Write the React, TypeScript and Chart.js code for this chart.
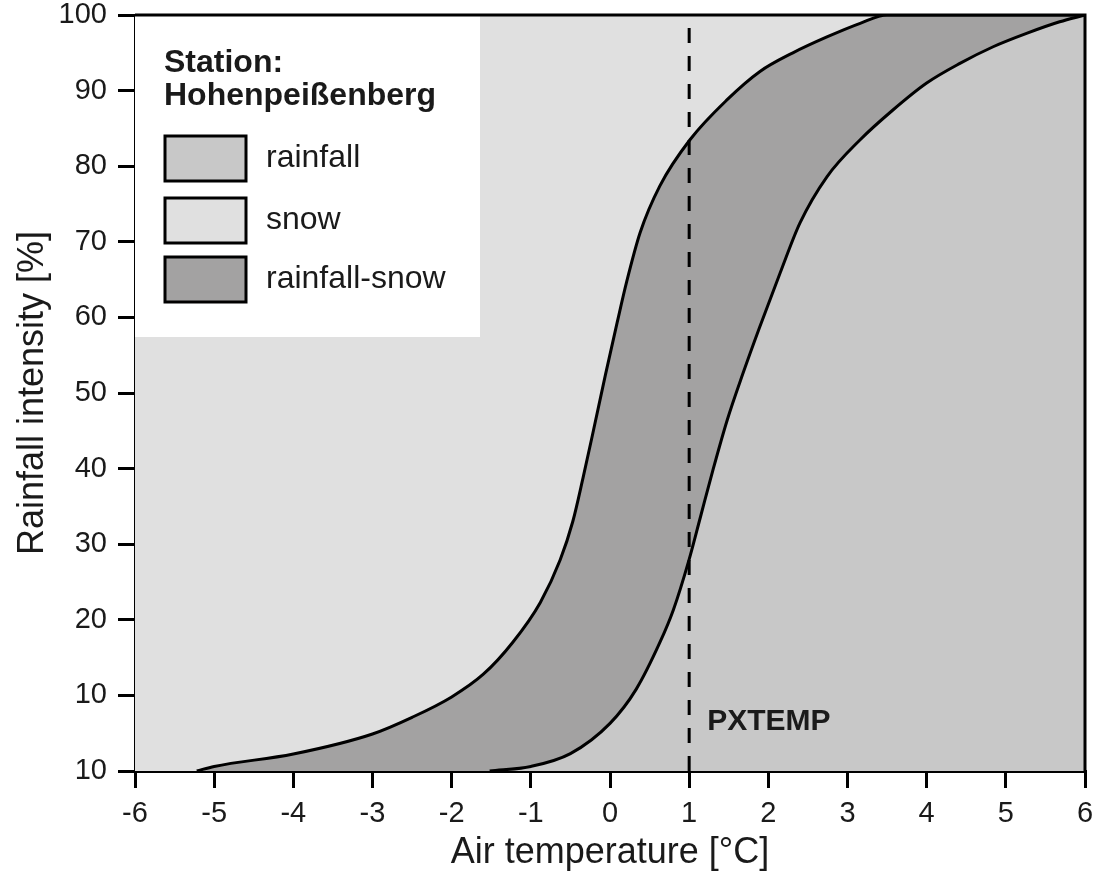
import React, { useEffect, useRef } from 'react';
import { Chart, registerables } from 'chart.js';

Chart.register(...registerables);

// ---- data ----
const xTickValues = [-6, -5, -4, -3, -2, -1, 0, 1, 2, 3, 4, 5, 6];
const xTickLabels = ['-6', '-5', '-4', '-3', '-2', '-1', '0', '1', '2', '3', '4', '5', '6'];
const yTickValues = [0, 10, 20, 30, 40, 50, 60, 70, 80, 90, 100];
const yTickLabels = ['10', '10', '20', '30', '40', '50', '60', '70', '80', '90', '100'];

// boundary between snow and rainfall-snow (left curve)
const snowLimitX = [-5.22, -5, -4, -3, -2.5, -2, -1.6, -1.23, -0.88, -0.63, -0.47, -0.34, -0.21, -0.06, 0.09, 0.21, 0.38, 0.63, 1.01, 1.48, 1.89, 2.31, 2.74, 3.16, 3.5, 6];
const snowLimitY = [0, 0.6, 2.25, 4.9, 7.1, 9.8, 12.8, 17.0, 22.3, 27.9, 33.0, 38.8, 45.0, 52.3, 59.3, 64.7, 71.2, 77.4, 83.5, 88.8, 92.5, 95.0, 97.1, 98.9, 100, 100];

// boundary between rainfall-snow and rainfall (right curve)
const rainLimitX = [-1.52, -1.0, -0.5, 0, 0.33, 0.63, 0.8, 1.0, 1.14, 1.3, 1.48, 1.68, 1.89, 2.15, 2.4, 2.74, 3.16, 3.57, 4.0, 4.42, 4.84, 5.27, 5.68, 6];
const rainLimitY = [0, 0.6, 2.3, 6.3, 10.8, 17.0, 21.3, 28.0, 33.5, 39.8, 46.4, 52.6, 58.7, 65.9, 72.5, 78.6, 83.5, 87.4, 91.0, 93.6, 95.8, 97.6, 99.1, 100];

const PXTEMP = 1;
const pxtempLabel = 'PXTEMP';
const legendTitle = ['Station:', 'Hohenpeißenberg'];
const legendLabels = ['rainfall', 'snow', 'rainfall-snow'];

const xTitle = 'Air temperature [°C]';
const yTitle = 'Rainfall intensity [%]';

// ---- styles ----
const RAIN = '#c8c8c8';
const SNOW = '#e0e0e0';
const MIXED = '#a3a2a2';
const INK = '#1a1a1a';
const FONT = '"Liberation Sans", Arial, Helvetica, sans-serif';
const legendColors = [RAIN, SNOW, MIXED];

const toPoints = (xs: number[], ys: number[]) => xs.map((x, i) => ({ x, y: ys[i] }));

export default function App() {
  const ref = useRef<HTMLCanvasElement>(null);

  useEffect(() => {
    const canvas = ref.current;
    if (!canvas) return;

    const decor = {
      id: 'decor',
      beforeDatasetsDraw(chart: any) {
        const { ctx, chartArea: a } = chart;
        ctx.save();
        ctx.fillStyle = SNOW;
        ctx.fillRect(a.left, a.top, a.right - a.left, a.bottom - a.top);
        ctx.restore();
      },
      afterDatasetsDraw(chart: any) {
        const { ctx, chartArea: a, scales } = chart;
        ctx.save();
        // legend panel
        ctx.fillStyle = '#ffffff';
        ctx.fillRect(a.left, a.top, 345, 322);
        ctx.fillStyle = INK;
        ctx.textBaseline = 'alphabetic';
        ctx.textAlign = 'left';
        ctx.font = `bold 32px ${FONT}`;
        ctx.fillText(legendTitle[0], a.left + 29, a.top + 57);
        ctx.fillText(legendTitle[1], a.left + 29, a.top + 90);
        const boxTops = [121, 183, 242];
        legendLabels.forEach((lab, i) => {
          const bx = a.left + 30;
          const by = a.top + boxTops[i];
          ctx.fillStyle = legendColors[i];
          ctx.fillRect(bx, by, 81, 45);
          ctx.strokeStyle = '#000';
          ctx.lineWidth = 3;
          ctx.strokeRect(bx, by, 81, 45);
          ctx.fillStyle = INK;
          ctx.font = `32px ${FONT}`;
          ctx.fillText(lab, a.left + 131, by + 31);
        });
        // PXTEMP label
        const px = scales.x.getPixelForValue(PXTEMP);
        ctx.font = `bold 30px ${FONT}`;
        ctx.fillStyle = INK;
        ctx.fillText(pxtempLabel, px + 18, a.bottom - 41);
        ctx.restore();
      },
      afterDraw(chart: any) {
        const { ctx, chartArea: a } = chart;
        ctx.save();
        ctx.strokeStyle = '#000';
        ctx.lineWidth = 3;
        ctx.beginPath();
        ctx.moveTo(a.left, a.top);
        ctx.lineTo(a.right, a.top);
        ctx.lineTo(a.right, a.bottom);
        ctx.stroke();
        ctx.restore();
      },
    };

    const chart = new Chart(canvas, {
      type: 'line',
      data: {
        datasets: [
          {
            label: 'PXTEMP',
            data: [{ x: PXTEMP, y: 0 }, { x: PXTEMP, y: 100 }],
            borderColor: '#000',
            borderWidth: 3,
            borderDash: [15, 13],
            pointRadius: 0,
            tension: 0,
            fill: false,
            order: 0,
          },
          {
            label: 'rainfall',
            data: toPoints(rainLimitX, rainLimitY),
            borderColor: '#000',
            borderWidth: 3,
            backgroundColor: RAIN,
            fill: 'origin',
            pointRadius: 0,
            cubicInterpolationMode: 'monotone',
            order: 1,
          },
          {
            label: 'rainfall-snow',
            data: toPoints(snowLimitX, snowLimitY),
            borderColor: '#000',
            borderWidth: 3,
            backgroundColor: MIXED,
            fill: 'origin',
            pointRadius: 0,
            cubicInterpolationMode: 'monotone',
            order: 2,
          },
        ],
      },
      options: {
        animation: false,
        responsive: false,
        devicePixelRatio: 1,
        layout: { padding: { top: 15, right: 17, left: 0, bottom: 0 } },
        plugins: {
          legend: { display: false },
          tooltip: { enabled: false },
        },
        scales: {
          x: {
            type: 'linear',
            min: -6,
            max: 6,
            z: 1,
            afterBuildTicks: (s: any) => {
              s.ticks = xTickValues.map((v) => ({ value: v }));
            },
            afterFit: (s: any) => {
              s.height = 119;
              s.paddingLeft = 0;
              s.paddingRight = 0;
            },
            ticks: {
              autoSkip: false,
              maxRotation: 0,
              padding: 9,
              color: INK,
              font: { family: FONT, size: 29 },
              callback: (_v: any, i: number) => xTickLabels[i],
            },
            grid: {
              drawOnChartArea: false,
              drawTicks: true,
              tickLength: 17,
              color: '#000',
              lineWidth: 3,
            },
            border: { display: true, color: '#000', width: 3 },
            title: {
              display: true,
              text: xTitle,
              color: INK,
              font: { family: FONT, size: 36 },
              padding: { top: 0, bottom: 15 },
            },
          },
          y: {
            type: 'linear',
            min: 0,
            max: 100,
            z: 1,
            afterBuildTicks: (s: any) => {
              s.ticks = yTickValues.map((v) => ({ value: v }));
            },
            afterFit: (s: any) => {
              s.width = 135;
              s.paddingTop = 0;
              s.paddingBottom = 0;
            },
            ticks: {
              autoSkip: false,
              padding: 11,
              color: INK,
              font: { family: FONT, size: 29 },
              callback: (_v: any, i: number) => yTickLabels[i],
            },
            grid: {
              drawOnChartArea: false,
              drawTicks: true,
              tickLength: 17,
              color: '#000',
              lineWidth: 3,
            },
            border: { display: true, color: '#000', width: 3 },
            title: {
              display: true,
              text: yTitle,
              color: INK,
              font: { family: FONT, size: 36 },
              padding: { top: 11, bottom: 0 },
            },
          },
        },
      },
      plugins: [decor],
    } as any);

    return () => chart.destroy();
  }, []);

  return (
    <div style={{ position: 'absolute', left: 0, top: 0, width: 1102, height: 890, background: '#ffffff' }}>
      <canvas ref={ref} width={1102} height={890} style={{ display: 'block', width: 1102, height: 890 }} />
    </div>
  );
}
